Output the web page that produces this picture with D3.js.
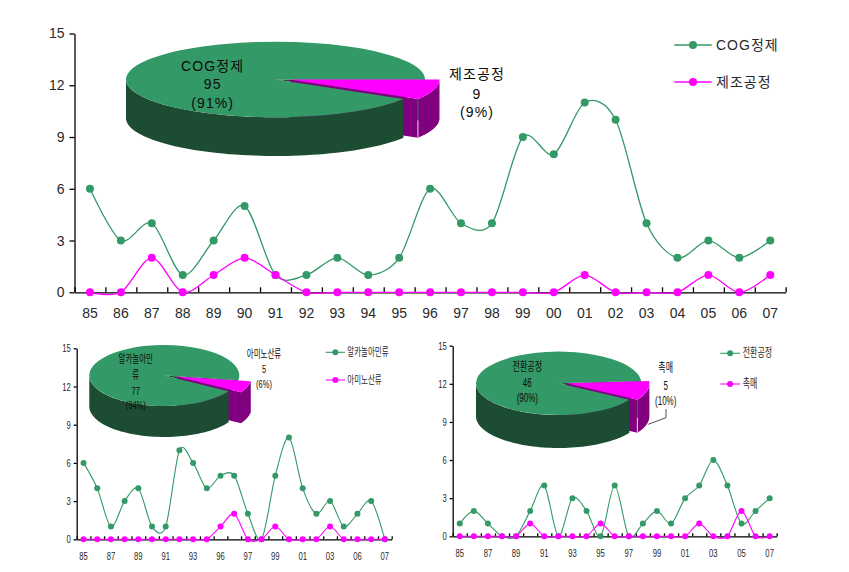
<!DOCTYPE html>
<html lang="ko">
<head>
<meta charset="UTF-8"/>
<title>공정별 특허 동향</title>
<script src="https://d3js.org/d3.v7.min.js"></script>
<style>
    html, body { margin: 0; padding: 0; background: #fff; }
    svg { display: block; }
    text { font-family: "Liberation Sans", "Noto Sans CJK KR", sans-serif; fill: #2a2a2a; }
    text.pie-label { fill: #0c0c0c; }
    .axis path, .axis line { stroke: #000; stroke-width: 1.3px; fill: none; }
</style>
</head>
<body>
<svg width="849" height="572"></svg>
<script>
// data
const yTicks = [0, 3, 6, 9, 12, 15];

const yearsA = ["85","86","87","88","89","90","91","92","93","94","95","96","97","98","99","00","01","02","03","04","05","06","07"];
const cogValues = [6,3,4,1,3,5,1,1,2,1,2,6,4,4,9,8,11,10,4,2,3,2,3];
const processValues = [0,0,2,0,1,2,1,0,0,0,0,0,0,0,0,0,1,0,0,0,1,0,1];

const alkanolValues = [6,4,1,3,4,1,1,7,6,4,5,5,2,0,5,8,4,2,3,1,2,3,0];
const aminoValues = [0,0,0,0,0,0,0,0,0,0,1,2,0,0,1,0,0,0,1,0,0,0,0];
const yearLabelsB = ["85","87","89","91","93","96","97","99","01","03","06","07"];

const conversionValues = [1,2,1,0,0,2,4,0,3,2,0,4,0,1,2,1,3,4,6,4,1,2,3];
const catalystValues = [0,0,0,0,0,1,0,0,0,0,1,0,0,0,0,0,0,1,0,0,2,0,0];
const yearLabelsC = ["85","87","89","91","93","95","97","99","01","03","05","07"];

const pieTotalsA = [9, 95];
const pieTotalsB = [5, 77];
const pieTotalsC = [5, 46];

const GREEN = "#339966", GREEN_DARK = "#1c4d33", PINK = "#ff00ff", PINK_DARK = "#800080";

const svg = d3.select("svg");

function drawChart(c) {
    const g = svg.append("g");
    const x = d3.scaleBand().domain(d3.range(c.years.length)).range([c.x0, c.x1]);
    const y = d3.scaleLinear().domain([0, 15]).range([c.y0, c.y1]);
    const cx = i => x(i) + x.bandwidth() / 2;

    // y axis
    const ya = g.append("g").attr("class", "axis")
        .attr("transform", "translate(" + c.x0 + ",0)")
        .call(d3.axisLeft(y).tickValues(yTicks).tickSize(c.tick).tickSizeOuter(0));
    ya.selectAll("text")
        .attr("font-size", c.font)
        .attr("x", -c.yLabelGap / c.squeeze)
        .attr("transform", "scale(" + c.squeeze + ",1)");

    // x axis, ticks point up and sit on the band edges
    const xa = g.append("g").attr("class", "axis")
        .attr("transform", "translate(0," + c.y0 + ")")
        .call(d3.axisBottom(d3.scaleLinear().domain([0, c.years.length]).range([c.x0, c.x1]))
            .ticks(c.years.length).tickSize(-c.tick).tickSizeOuter(0).tickFormat(""));
    xa.selectAll("text").remove();

    g.append("g").selectAll("text")
        .data(c.labels)
        .join("text")
        .attr("text-anchor", "middle")
        .attr("font-size", c.font)
        .attr("transform", (d, i) => "translate(" + cx(i * c.labelStep) + "," + c.xLabelY + ") scale(" + c.squeeze + ",1)")
        .text(d => d);

    const line = d3.line().x((d, i) => cx(i)).y(d => y(d)).curve(d3.curveCardinal.tension(0.1));

    [[c.first, GREEN], [c.second, PINK]].forEach(([vals, col]) => {
        g.append("path").attr("d", line(vals)).attr("fill", "none")
            .attr("stroke", col).attr("stroke-width", c.lineW);
        g.append("g").selectAll("circle").data(vals).join("circle")
            .attr("cx", (d, i) => cx(i)).attr("cy", d => y(d)).attr("r", c.r).attr("fill", col);
    });

    // legend
    c.legend.forEach((l, i) => {
        const col = i ? PINK : GREEN;
        g.append("line").attr("x1", c.legX0).attr("x2", c.legX1).attr("y1", l.y).attr("y2", l.y)
            .attr("stroke", col).attr("stroke-width", c.lineW);
        g.append("circle").attr("cx", (c.legX0 + c.legX1) / 2).attr("cy", l.y).attr("r", c.r).attr("fill", col);
        g.append("text").attr("font-size", c.legFont).attr("letter-spacing", c.legSpacing)
            .attr("dominant-baseline", "central")
            .attr("transform", "translate(" + c.legTextX + "," + l.y + ") scale(" + c.legSqueeze + ",1)")
            .text(l.text);
    });
}

// point on the squashed circle, angle in d3 convention (0 = 12 o'clock, clockwise)
function ell(p, a) {
    return [p.cx + p.rx * Math.sin(a), p.cy - p.ry * Math.cos(a)];
}

function wallPath(p, a0, a1, dx, dy) {
    // outer wall between two angles, only the front half (angles pi/2..3pi/2) is seen
    const lo = Math.max(a0, Math.PI / 2), hi = Math.min(a1, Math.PI * 1.5);
    const pts = d3.range(0, 61).map(k => {
        const e = ell(p, lo + (hi - lo) * k / 60);
        return [e[0] + dx, e[1] + dy];
    });
    const bottom = pts.map(q => [q[0], q[1] + p.depth]).reverse();
    return d3.line()(pts.concat(bottom)) + "Z";
}

function drawPie(p) {
    const g = svg.append("g");
    const arcs = d3.pie().sort(null)
        .startAngle(Math.PI / 2 + p.start)
        .endAngle(Math.PI * 2.5 + p.start)(p.values);
    const small = arcs[0], big = arcs[1];
    const arc = d3.arc().innerRadius(0).outerRadius(p.rx);
    const face = (dx, dy) => "translate(" + (p.cx + dx) + "," + (p.cy + dy) + ") scale(1," + (p.ry / p.rx) + ")";

    // dark floor under the gap the slice left behind
    g.append("path").attr("fill", GREEN_DARK).attr("transform", face(0, 0)).attr("d", arc(small));

    // cut face of the pulled-out slice, seen through the gap
    const tip = ell(p, small.endAngle);
    const ox = tip[0] + p.dx, oy = tip[1] + p.dy, ax = p.cx + p.dx, ay = p.cy + p.dy;
    g.append("path").attr("fill", PINK_DARK)
        .attr("d", d3.line()([[ax, ay], [ox, oy], [ox, oy + p.depth], [ax, ay + p.depth]]) + "Z");
    g.append("path").attr("fill", PINK_DARK)
        .attr("d", wallPath(p, small.startAngle, small.endAngle, p.dx, p.dy));
    if (p.divider) {
        g.append("line").attr("x1", ox).attr("x2", ox).attr("y1", oy).attr("y2", oy + p.depth * 0.55)
            .attr("stroke", "#2f6b4a").attr("stroke-width", 1);
        g.append("line").attr("x1", ox).attr("x2", ox).attr("y1", oy + p.depth * 0.55).attr("y2", oy + p.depth)
            .attr("stroke", "#e6d6e6").attr("stroke-width", 1);
    }

    // big slice
    g.append("path").attr("fill", GREEN_DARK)
        .attr("d", wallPath(p, big.startAngle, big.endAngle, 0, 0));
    g.append("path").attr("fill", GREEN).attr("transform", face(0, 0)).attr("d", arc(big));

    // small slice on top
    g.append("path").attr("fill", PINK).attr("transform", face(p.dx, p.dy)).attr("d", arc(small));

    if (p.leader) {
        g.append("path").attr("fill", "none").attr("stroke", "#222").attr("stroke-width", 0.8)
            .attr("d", d3.line()(p.leader));
    }

    p.labels.forEach(t => {
        g.append("text").attr("class", "pie-label").attr("font-size", p.font).attr("letter-spacing", p.spacing)
            .attr("text-anchor", "middle").attr("dominant-baseline", "central")
            .attr("transform", "translate(" + t[0] + "," + t[1] + ") scale(" + p.squeeze + ",1)")
            .text(t[2]);
    });
}

drawChart({
    years: yearsA, labels: yearsA, labelStep: 1, first: cogValues, second: processValues,
    x0: 74.5, x1: 785.7, y0: 292.3, y1: 33.5, tick: 5, font: 14, squeeze: 1, yLabelGap: 10, xLabelY: 318,
    r: 4, lineW: 1.3,
    legX0: 674.3, legX1: 711.7, legTextX: 716, legFont: 14, legSpacing: 1, legSqueeze: 1,
    legend: [{y: 45, text: "COG정제"}, {y: 82, text: "제조공정"}]
});
drawChart({
    years: yearsA, labels: yearLabelsB, labelStep: 2, first: alkanolValues, second: aminoValues,
    x0: 76.7, x1: 391.7, y0: 539.3, y1: 348.3, tick: 3, font: 11, squeeze: 0.7, yLabelGap: 6, xLabelY: 560,
    r: 3, lineW: 1.1,
    legX0: 325.7, legX1: 345, legTextX: 347.3, legFont: 11.5, legSpacing: 0, legSqueeze: 0.65,
    legend: [{y: 352.3, text: "알카놀아민류"}, {y: 380, text: "아미노산류"}]
});
drawChart({
    years: yearsA, labels: yearLabelsC, labelStep: 2, first: conversionValues, second: catalystValues,
    x0: 452.7, x1: 776.7, y0: 536.3, y1: 345.7, tick: 3, font: 11, squeeze: 0.7, yLabelGap: 6, xLabelY: 557,
    r: 3, lineW: 1.1,
    legX0: 720.3, legX1: 740, legTextX: 742.7, legFont: 12.3, legSpacing: 0, legSqueeze: 0.65,
    legend: [{y: 353.3, text: "전환공정"}, {y: 384, text: "촉매"}]
});

drawPie({
    values: pieTotalsA, cx: 275.5, cy: 79.5, rx: 149.5, ry: 37.8, depth: 38.7, start: 0, dx: 14.5, dy: 0,
    divider: true, font: 14, spacing: 1.1, squeeze: 1,
    labels: [[212.7, 66, "COG정제"], [212.7, 84, "95"], [212.7, 103, "(91%)"],
             [477, 74, "제조공정"], [477, 94, "9"], [477, 112, "(9%)"]]
});
drawPie({
    values: pieTotalsB, cx: 164.3, cy: 375.5, rx: 75, ry: 30.5, depth: 31, start: 9 * Math.PI / 180, dx: 12.4, dy: 1,
    divider: false, font: 11.5, spacing: 0, squeeze: 0.65,
    labels: [[135.7, 359, "알카놀아민"], [135.7, 375, "류"], [135.7, 390.7, "77"], [135.7, 405, "(94%)"],
             [264, 354, "아미노산류"], [264, 369, "5"], [264, 384, "(6%)"]]
});
drawPie({
    values: pieTotalsC, cx: 558.7, cy: 383.3, rx: 82.7, ry: 31.7, depth: 33, start: -4 * Math.PI / 180, dx: 8, dy: 0,
    divider: true, font: 12.3, spacing: 0, squeeze: 0.65,
    leader: [[666, 409], [666, 417.7], [648.3, 424.3]],
    labels: [[527.3, 366.7, "전환공정"], [527.3, 383.3, "46"], [527.3, 397.7, "(90%)"],
             [665.7, 368.3, "촉매"], [665.7, 385.7, "5"], [665.7, 400.7, "(10%)"]]
});
</script>
</body>
</html>
